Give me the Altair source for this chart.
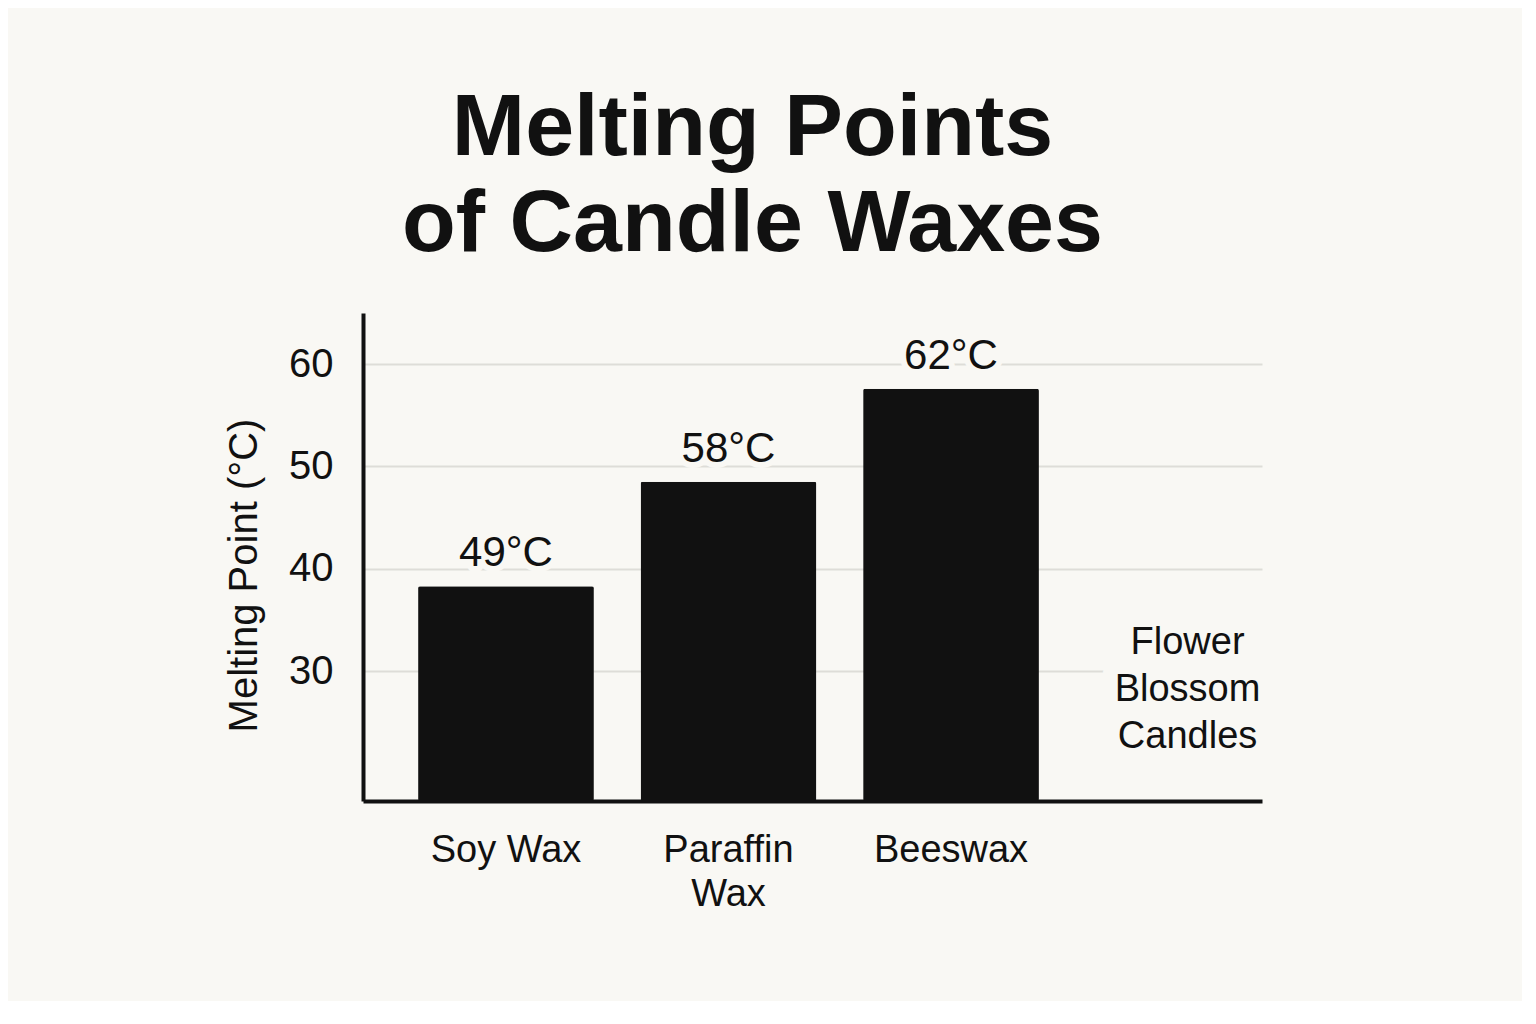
import altair as alt
import pandas as pd

# ---- data ----
waxes = ["Soy Wax", "Paraffin Wax", "Beeswax"]
bar_values = [38.3, 48.5, 57.6]
bar_labels = ["49°C", "58°C", "62°C"]
note_category = "Flower Blossom Candles"
note_text = "Flower\nBlossom\nCandles"
note_value = 31.7
y_ticks = [30, 40, 50, 60]
y_domain = [17.3, 65]
title_lines = ["Melting Points", "of Candle Waxes"]
axis_title = "Melting Point (°C)"

categories = waxes + [note_category]

bars_df = pd.DataFrame({"wax": waxes, "value": bar_values, "label": bar_labels})
note_df = pd.DataFrame({"wax": [note_category], "value": [note_value], "label": [note_text]})

BG = "#f9f8f4"
INK = "#111111"
GRID = "#deddd8"
FONT = "Liberation Sans"

x_scale = alt.Scale(domain=categories, paddingInner=0.21, paddingOuter=0.125, align=0.99)
y_scale = alt.Scale(domain=y_domain, zero=False, nice=False, clamp=True)

x_enc = alt.X(
    "wax:N", scale=x_scale, sort=categories,
    axis=alt.Axis(
        title=None, labelAngle=0, labelFontSize=38, labelFont=FONT, labelColor=INK,
        labelPadding=30, ticks=False, tickSize=0, domainColor=INK, domainWidth=4,
        labelLineHeight=44, grid=False,
        labelExpr="datum.value == 'Paraffin Wax' ? ['Paraffin', 'Wax'] : (datum.value == 'Flower Blossom Candles' ? '' : datum.value)",
    ),
)
y_enc = alt.Y(
    "value:Q", scale=y_scale,
    axis=alt.Axis(
        title=axis_title, values=y_ticks, labelFontSize=40, labelFont=FONT, labelColor=INK,
        ticks=False, tickSize=0, labelPadding=30, titleFontSize=40, titleFont=FONT,
        titleFontWeight="normal", titleColor=INK, titlePadding=24, titleY=262,
        grid=True, gridColor=GRID, gridWidth=2, domainColor=INK, domainWidth=4,
    ),
)

base = alt.Chart(bars_df).encode(x=x_enc, y=y_enc)

bars = base.mark_bar(color=INK, cornerRadius=2)

label_halo = base.mark_text(
    font=FONT, fontSize=42, baseline="alphabetic", dy=-20, align="center",
    fill=BG, stroke=BG, strokeWidth=12, strokeJoin="round",
).encode(text="label:N")
labels = base.mark_text(
    font=FONT, fontSize=42, baseline="alphabetic", dy=-20, align="center", color=INK,
).encode(text="label:N")

note_base = alt.Chart(note_df).encode(x=alt.X("wax:N", scale=x_scale, sort=categories), y=alt.Y("value:Q", scale=y_scale))
note_halo = note_base.mark_text(
    font=FONT, fontSize=38, baseline="alphabetic", dx=14, align="center", lineBreak="\n",
    lineHeight=47, fill=BG, stroke=BG, strokeWidth=30, strokeJoin="round",
).encode(text="label:N")
note = note_base.mark_text(
    font=FONT, fontSize=38, baseline="alphabetic", dx=14, align="center", lineBreak="\n",
    lineHeight=47, color=INK,
).encode(text="label:N")

chart = (
    alt.layer(bars, label_halo, labels, note_halo, note)
    .properties(
        width=899, height=488,
        title=alt.TitleParams(
            text=title_lines, fontSize=88, font=FONT, fontWeight="bold", color=INK,
            anchor="middle", dx=-60, offset=44, lineHeight=96,
        ),
        autosize=alt.AutoSizeParams(type="none"),
        padding={"left": 355, "top": 305, "right": 260, "bottom": 200},
        background=BG,
    )
    .configure_view(stroke=None)
)

chart.save("out.html", embed_options={"renderer": "svg", "actions": False})
